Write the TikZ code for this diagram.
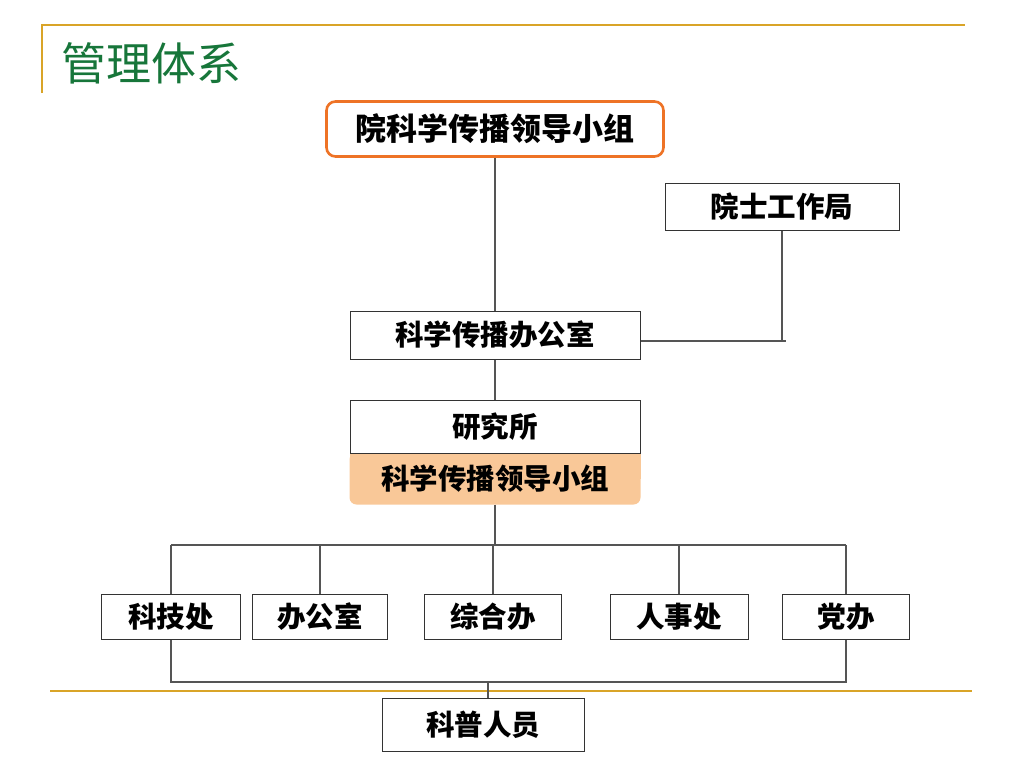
\documentclass[tikz,border=0pt]{standalone}
\usepackage{xcolor}
\usepackage{fontspec}
\setmainfont{Noto Sans CJK SC}
\usepackage{tikz}
\usetikzlibrary{calc,backgrounds,positioning}
\definecolor{gold}{HTML}{D9A428}
\definecolor{title}{HTML}{17763A}
\definecolor{leadline}{HTML}{EE7326}
\definecolor{peach}{HTML}{F9C898}
\definecolor{wire}{HTML}{555555}

\begin{document}
\begin{tikzpicture}[x=1pt,y=-1pt,
    unit/.style={draw=black!80,line width=1pt,fill=white,inner sep=0pt,
      font=\bfseries\fontsize{28.5}{28.5}\selectfont},
    wire/.style={draw=wire,line width=1.2pt}]
    \useasboundingbox (0,0) rectangle (1024,768);

    % frame
    \draw[gold,line width=1.6pt] (42,93) -- (42,25) -- (965,25);
    \draw[gold,line width=2.4pt] (50,691) -- (972,691);
    \node[anchor=west,text=title,font=\fontsize{45}{45}\selectfont] (ttl) at (58,63) {管理体系};

    % top part
    \node[unit,draw=leadline,line width=2.6pt,rounded corners=9pt,
      minimum width=337pt,minimum height=55pt,font=\bfseries\fontsize{31}{31}\selectfont] (lead) at (495,129) {院科学传播领导小组};
    \node[unit,minimum width=234pt,minimum height=47pt] (acad) at (782,206.5) {院士工作局};
    \node[unit,minimum width=290pt,minimum height=48pt] (office) at (495,335) {科学传播办公室};
    \node[unit,minimum width=290pt,minimum height=53pt] (inst) at (495,426.5) {研究所};
    \node[unit,draw=none,fill=none,minimum width=290pt,minimum height=51pt] (group) at (495,478.5) {科学传播领导小组};
    \begin{scope}[on background layer]
      \fill[peach,rounded corners=7pt] (group.north west) rectangle (group.south east);
      \fill[peach] (group.north west) rectangle ($(group.east)$);
    \end{scope}

    \coordinate (acadend) at (786,341);
    \draw[wire] (lead.south) -- (office.north);
    \draw[wire] (acad.south) -- (acad.south |- acadend);
    \draw[wire] (office.east |- acadend) -- (acadend);
    \draw[wire] (office.south) -- (inst.north);

    % departments
    \node[unit,minimum width=139pt,minimum height=45pt] (keji) at (171,616.5) {科技处};
    \node[unit,minimum width=135pt,minimum height=45pt] (bgs) at (320,616.5) {办公室};
    \node[unit,minimum width=137pt,minimum height=45pt] (zhb) at (493,616.5) {综合办};
    \node[unit,minimum width=138pt,minimum height=45pt] (rsc) at (679,616.5) {人事处};
    \node[unit,minimum width=127pt,minimum height=45pt] (dangban) at (846,616.5) {党办};

    \coordinate (bus) at (495,545);
    \draw[wire] (group.south) -- (group.south |- bus);
    \draw[wire] (keji.north |- bus) -- (dangban.north |- bus);
    \foreach \d in {keji,bgs,zhb,rsc,dangban}
      \draw[wire] (\d.north) -- (\d.north |- bus);

    % staff
    \node[unit,minimum width=202pt,minimum height=53pt] (kepu) at (483,724.5) {科普人员};
    \coordinate (low) at (488,682);
    \draw[wire] (keji.south) |- (low) -| (dangban.south);
    \draw[wire] (low) -- (kepu.north -| low);

\end{tikzpicture}
\end{document}
